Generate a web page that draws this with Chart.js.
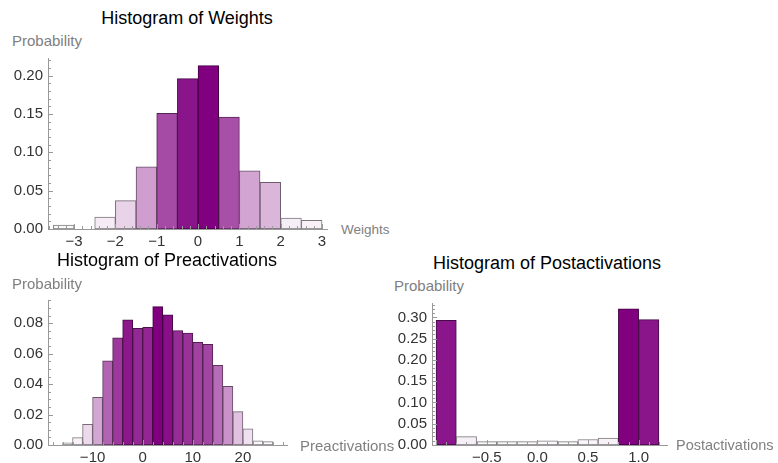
<!DOCTYPE html>
<html>
<head>
<meta charset="utf-8">
<script src="https://cdn.jsdelivr.net/npm/chart.js@4.4.0/dist/chart.umd.min.js"></script>
<style>
    body { margin: 0; background: #fff; width: 778px; height: 463px; position: relative; overflow: hidden;
           font-family: "Liberation Sans", Arial, sans-serif; }
    .caixa { position: absolute; }
    .titulo { position: absolute; font-size: 18px; color: #000; white-space: nowrap; transform: translate(-50%, -50%); }
    .rotulo { position: absolute; font-size: 15px; color: #808080; white-space: nowrap; transform: translateY(-50%); }
</style>
</head>
<body>

<div class="titulo" style="left:187px; top:18px">Histogram of Weights</div>
<div class="rotulo" style="left:12px; top:40px">Probability</div>
<div class="rotulo" style="left:341px; top:229px; font-size:13.5px">Weights</div>
<div class="caixa" style="left:0px; top:0px"><canvas id="grafico1" width="400" height="250"></canvas></div>

<div class="titulo" style="left:167px; top:260px">Histogram of Preactivations</div>
<div class="rotulo" style="left:12px; top:283px">Probability</div>
<div class="caixa" style="left:0px; top:250px"><canvas id="grafico2" width="390" height="213"></canvas></div>
<div class="rotulo" style="left:300px; top:445px">Preactivations</div>

<div class="titulo" style="left:547px; top:263px">Histogram of Postactivations</div>
<div class="rotulo" style="left:394px; top:285px">Probability</div>
<div class="caixa" style="left:390px; top:250px"><canvas id="grafico3" width="388" height="213"></canvas></div>
<div class="rotulo" style="left:676px; top:445px; font-size:14.5px">Postactivations</div>

<script>
// Pesos (centro de cada bin, largura 0.5)
const binsPesos = [-3.25, -2.75, -2.25, -1.75, -1.25, -0.75, -0.25, 0.25, 0.75, 1.25, 1.75, 2.25, 2.75];
const probPesos = [0.005, 0, 0.0155, 0.037, 0.081, 0.151, 0.196, 0.213, 0.146, 0.076, 0.061, 0.0144, 0.0114];
const ticksXPesos = [-3, -2, -1, 0, 1, 2, 3];
const ticksYPesos = [0, 0.05, 0.10, 0.15, 0.20];

// Pre-ativacoes (largura 2)
const binsPre = [-15, -13, -11, -9, -7, -5, -3, -1, 1, 3, 5, 7, 9, 11, 13, 15, 17, 19, 21, 23, 25];
const probPre = [0.0015, 0.0048, 0.0136, 0.0313, 0.0554, 0.0705, 0.0822, 0.0767, 0.0774, 0.0909, 0.0855,
                 0.0752, 0.0736, 0.0675, 0.0662, 0.0524, 0.0386, 0.0219, 0.0107, 0.0028, 0.0022];
const ticksXPre = [-10, 0, 10, 20];
const ticksYPre = [0, 0.02, 0.04, 0.06, 0.08];

// Pos-ativacoes (largura 0.2)
const binsPos = [-0.9, -0.7, -0.5, -0.3, -0.1, 0.1, 0.3, 0.5, 0.7, 0.9, 1.1];
const probPos = [0.293, 0.0196, 0.0079, 0.0079, 0.0079, 0.010, 0.008, 0.013, 0.0165, 0.320, 0.295];
const ticksXPos = [-0.5, 0, 0.5, 1.0];
const ticksYPos = [0, 0.05, 0.10, 0.15, 0.20, 0.25, 0.30];

// cor da barra: branco -> roxo conforme a altura
function corBarra(v, vmax, escuro) {
    const t = v / vmax;
    let r = 255 + (128 - 255) * t;
    let g = 255 * (1 - t);
    if (escuro) { r = r * 0.5; g = g * 0.5; }
    return 'rgb(' + Math.round(r) + ',' + Math.round(g) + ',' + Math.round(r) + ')';
}

function formatar(v, casas) {
    return v.toFixed(casas).replace('-', '\u2212');
}

// marcas dos eixos para dentro (estilo Mathematica)
const marcasInternas = {
    id: 'marcasInternas',
    afterDatasetsDraw(chart, args, opts) {
        const ctx = chart.ctx;
        const x = chart.scales.x, y = chart.scales.y;
        const area = chart.chartArea;
        ctx.save();
        ctx.strokeStyle = '#999';
        ctx.lineWidth = 1;
        ctx.beginPath();
        let i0 = Math.ceil(x.min / opts.xMenor - 1e-6);
        for (let i = i0; i * opts.xMenor <= x.max + 1e-9; i++) {
            const v = i * opts.xMenor;
            const q = v / opts.xMaior;
            const tam = Math.abs(q - Math.round(q)) < 1e-6 ? 5 : 3;
            const px = Math.round(x.getPixelForValue(v)) + 0.5;
            ctx.moveTo(px, area.bottom);
            ctx.lineTo(px, area.bottom - tam);
        }
        i0 = Math.ceil(y.min / opts.yMenor - 1e-6);
        for (let i = i0; i * opts.yMenor <= y.max + 1e-9; i++) {
            const v = i * opts.yMenor;
            const q = v / opts.yMaior;
            const tam = Math.abs(q - Math.round(q)) < 1e-6 ? 5 : 3;
            const py = Math.round(y.getPixelForValue(v)) + 0.5;
            ctx.moveTo(area.left, py);
            ctx.lineTo(area.left + tam, py);
        }
        ctx.stroke();
        ctx.restore();
    }
};

function criarHistograma(idCanvas, bins, probs, ticksX, ticksY, c) {
    const vmax = Math.max(...probs);
    const dados = {
        datasets: [{
            data: bins.map((b, i) => ({ x: b, y: probs[i] })),
            backgroundColor: probs.map(p => corBarra(p, vmax, false)),
            borderColor: probs.map(p => corBarra(p, vmax, true)),
            borderWidth: 1,
            borderSkipped: false,
            barPercentage: 1,
            categoryPercentage: 1
        }]
    };
    const config = {
        type: 'bar',
        data: dados,
        options: {
            responsive: false,
            animation: false,
            layout: { padding: { left: 0, right: c.padDir, top: c.padTopo, bottom: 0 } },
            plugins: {
                legend: { display: false },
                tooltip: { enabled: false },
                marcasInternas: c.marcas
            },
            scales: {
                x: {
                    type: 'linear',
                    min: c.xMin, max: c.xMax,
                    offset: false,
                    grid: { display: false, drawTicks: false },
                    border: { color: '#999', width: 1 },
                    afterBuildTicks: s => { s.ticks = ticksX.map(v => ({ value: v })); },
                    afterFit: s => { s.height = c.altX; },
                    ticks: {
                        callback: v => formatar(v, c.casasX),
                        font: { family: '"Liberation Sans", Arial, sans-serif', size: 15 },
                        color: '#333', padding: 4, maxRotation: 0, autoSkip: false
                    }
                },
                y: {
                    min: 0, max: c.yMax,
                    grid: { display: false, drawTicks: false },
                    border: { color: '#999', width: 1 },
                    afterBuildTicks: s => { s.ticks = ticksY.map(v => ({ value: v })); },
                    afterFit: s => { s.width = c.largY; },
                    ticks: {
                        callback: v => formatar(v, 2),
                        font: { family: '"Liberation Sans", Arial, sans-serif', size: 15 },
                        color: '#333', padding: 5, autoSkip: false
                    }
                }
            }
        },
        plugins: [marcasInternas]
    };
    return new Chart(document.getElementById(idCanvas), config);
}

criarHistograma('grafico1', binsPesos, probPesos, ticksXPesos, ticksYPesos, {
    xMin: -3.63, xMax: 3.12, yMax: 0.223, casasX: 0,
    padDir: 73, padTopo: 58, altX: 21, largY: 48,
    marcas: { xMaior: 1, xMenor: 0.2, yMaior: 0.05, yMenor: 0.01 }
});

criarHistograma('grafico2', binsPre, probPre, ticksXPre, ticksYPre, {
    xMin: -18.9, xMax: 28.8, yMax: 0.0953, casasX: 0,
    padDir: 103, padTopo: 50, altX: 18, largY: 48,
    marcas: { xMaior: 10, xMenor: 2, yMaior: 0.02, yMenor: 0.005 }
});

criarHistograma('grafico3', binsPos, probPos, ticksXPos, ticksYPos, {
    xMin: -1.04, xMax: 1.28, yMax: 0.334, casasX: 1,
    padDir: 111, padTopo: 53, altX: 18, largY: 42,
    marcas: { xMaior: 0.5, xMenor: 0.1, yMaior: 0.05, yMenor: 0.01 }
});
</script>
</body>
</html>
